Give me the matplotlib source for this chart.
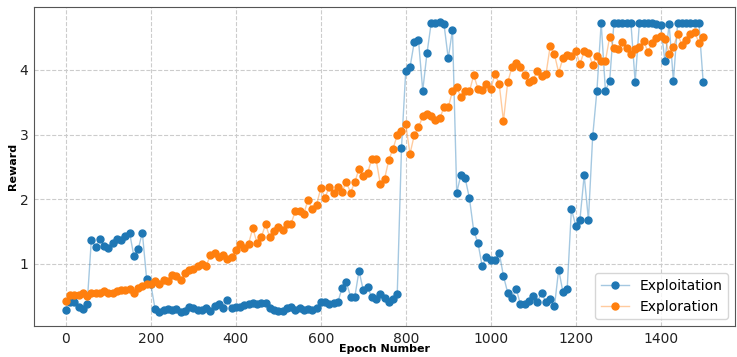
import numpy as np
import matplotlib
matplotlib.use("Agg")
import matplotlib.pyplot as plt

epochs = np.arange(0, 1510, 10)

exploitation = [
    0.28, 0.41, 0.40, 0.33, 0.30, 0.37, 1.37, 1.26, 1.38, 1.27,
    1.25, 1.32, 1.39, 1.37, 1.43, 1.48, 1.12, 1.22, 1.48, 0.77,
    0.68, 0.30, 0.26, 0.28, 0.30, 0.28, 0.30, 0.26, 0.27, 0.33,
    0.32, 0.28, 0.29, 0.31, 0.27, 0.35, 0.37, 0.32, 0.44, 0.32,
    0.33, 0.33, 0.36, 0.37, 0.39, 0.37, 0.39, 0.39, 0.31, 0.28,
    0.27, 0.27, 0.31, 0.33, 0.28, 0.32, 0.28, 0.30, 0.28, 0.31,
    0.40, 0.41, 0.38, 0.39, 0.40, 0.62, 0.72, 0.49, 0.48, 0.89,
    0.59, 0.64, 0.48, 0.46, 0.53, 0.47, 0.40, 0.45, 0.53, 2.79,
    3.99, 4.04, 4.43, 4.46, 3.68, 4.26, 4.73, 4.73, 4.75, 4.71,
    4.18, 4.62, 2.10, 2.38, 2.32, 2.01, 1.51, 1.32, 0.96, 1.11,
    1.05, 1.05, 1.17, 0.81, 0.55, 0.47, 0.61, 0.37, 0.37, 0.42,
    0.50, 0.41, 0.55, 0.40, 0.45, 0.34, 0.91, 0.56, 0.61, 1.85,
    1.59, 1.68, 2.37, 1.68, 2.97, 3.68, 4.73, 3.68, 3.83, 4.73,
    4.73, 4.73, 4.73, 4.73, 3.81, 4.73, 4.73, 4.72, 4.72, 4.71,
    4.69, 4.14, 4.71, 3.83, 4.73, 4.73, 4.73, 4.73, 4.73, 4.73,
    3.82,
]

exploration = [
    0.43, 0.51, 0.51, 0.52, 0.54, 0.50, 0.54, 0.54, 0.54, 0.57,
    0.55, 0.54, 0.57, 0.59, 0.59, 0.61, 0.55, 0.63, 0.66, 0.68,
    0.69, 0.73, 0.68, 0.75, 0.73, 0.82, 0.81, 0.74, 0.86, 0.90,
    0.92, 0.97, 0.99, 0.96, 1.13, 1.16, 1.10, 1.14, 1.08, 1.11,
    1.21, 1.30, 1.24, 1.31, 1.55, 1.32, 1.41, 1.61, 1.41, 1.50,
    1.57, 1.52, 1.61, 1.62, 1.81, 1.82, 1.77, 1.99, 1.84, 1.91,
    2.17, 2.02, 2.19, 2.10, 2.19, 2.11, 2.27, 2.10, 2.26, 2.47,
    2.36, 2.40, 2.62, 2.62, 2.24, 2.31, 2.60, 2.78, 2.99, 3.06,
    3.16, 2.70, 2.99, 3.11, 3.28, 3.32, 3.29, 3.22, 3.25, 3.42,
    3.42, 3.67, 3.73, 3.58, 3.68, 3.67, 3.92, 3.71, 3.69, 3.78,
    3.70, 3.94, 3.78, 3.21, 3.81, 4.04, 4.10, 4.04, 3.92, 3.82,
    3.85, 3.99, 3.90, 3.93, 4.37, 4.24, 3.96, 4.18, 4.23, 4.22,
    4.30, 4.09, 4.29, 4.27, 4.08, 4.22, 4.14, 4.14, 4.51, 4.34,
    4.32, 4.43, 4.34, 4.24, 4.32, 4.36, 4.45, 4.28, 4.42, 4.50,
    4.52, 4.48, 4.25, 4.36, 4.55, 4.39, 4.46, 4.55, 4.59, 4.42,
    4.51,
]

blue = '#1f77b4'
orange = '#ff7f0e'

fig = plt.figure(figsize=(7.37, 3.57), dpi=100)
ax = fig.add_axes([34 / 737, 1 - 326 / 357, 701 / 737, 319 / 357])

for y, c, name in [(exploitation, blue, 'Exploitation'), (exploration, orange, 'Exploration')]:
    ax.plot(epochs, y, '-o', color=matplotlib.colors.to_rgba(c, 0.4), linewidth=1,
            markersize=5, markerfacecolor=c, markeredgecolor=c, label=name)

ax.grid(True, linestyle='--', color='#cccccc', linewidth=0.8)
ax.set_axisbelow(True)
ax.tick_params(length=0, labelsize=10, labelcolor='#222222', pad=4)
for s in ax.spines.values():
    s.set_color('#555555')
ax.set_xticks([0, 200, 400, 600, 800, 1000, 1200, 1400])
ax.set_yticks([1, 2, 3, 4])
ax.set_xlabel('Epoch Number', fontsize=8, fontweight='bold', labelpad=-1)
ax.set_ylabel('Reward', fontsize=8, fontweight='bold', labelpad=1)
ax.legend(loc='lower right', fontsize=10, framealpha=0.8)

fig.savefig('out.png', dpi=100)
